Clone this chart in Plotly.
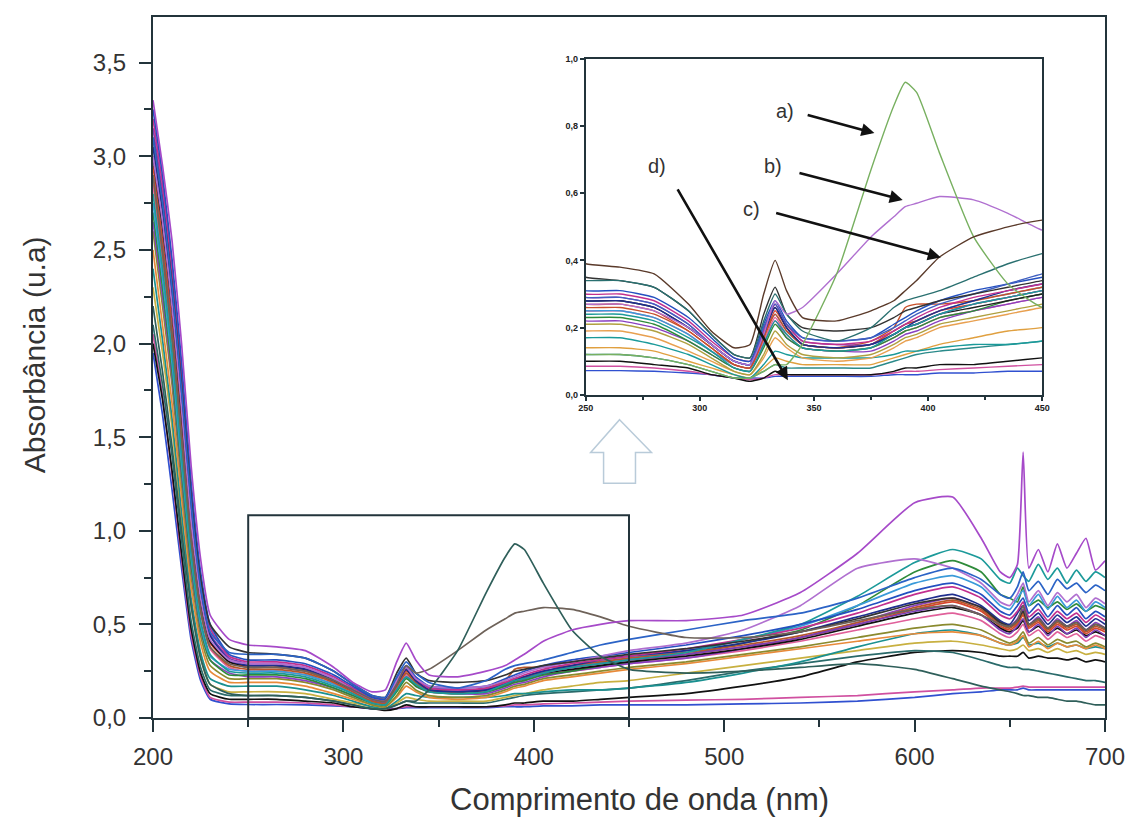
import plotly.graph_objects as go

# Shared wavelength grid (nm) for every absorbance spectrum
wavelength = [200, 205, 210, 215, 220, 225, 230, 240,
              250, 265, 280, 295, 305, 315, 322, 328, 333, 338, 345,
              360, 375, 385, 390, 395, 405, 420, 435, 450,
              480, 510, 540, 570, 600, 620, 635, 645,
              650, 654, 657, 660, 665, 670, 675, 680, 685, 690, 695, 700]

# --- spectra (absorbance, u.a) ---
spec_c = [3.30, 2.95, 2.55, 2.00, 1.35, 0.85, 0.55, 0.42,
          0.39, 0.38, 0.36, 0.27, 0.19, 0.14, 0.15, 0.30, 0.40, 0.31, 0.23,
          0.22, 0.25, 0.28, 0.31, 0.34, 0.41, 0.47, 0.50, 0.52,
          0.52, 0.55, 0.67, 0.88, 1.15, 1.18, 0.96, 0.78,
          0.75, 0.82, 1.42, 0.80, 0.90, 0.78, 0.93, 0.80, 0.88, 0.96, 0.79, 0.84]
spec_a = [2.20, 1.85, 1.45, 1.00, 0.60, 0.32, 0.18, 0.13,
          0.12, 0.12, 0.11, 0.09, 0.07, 0.05, 0.05, 0.07, 0.09, 0.09, 0.15,
          0.36, 0.67, 0.86, 0.93, 0.90, 0.72, 0.47, 0.33, 0.26,
          0.24, 0.25, 0.27, 0.29, 0.26, 0.21, 0.17, 0.15,
          0.14, 0.13, 0.12, 0.12, 0.11, 0.11, 0.10, 0.09, 0.09, 0.08, 0.07, 0.07]
spec_b = [2.90, 2.50, 2.05, 1.50, 0.95, 0.58, 0.38, 0.29,
          0.27, 0.27, 0.25, 0.20, 0.15, 0.10, 0.09, 0.18, 0.28, 0.24, 0.26,
          0.36, 0.47, 0.53, 0.56, 0.57, 0.59, 0.58, 0.54, 0.49,
          0.43, 0.43, 0.46, 0.52, 0.58, 0.60, 0.55, 0.50,
          0.49, 0.52, 0.60, 0.50, 0.53, 0.48, 0.52, 0.49, 0.51, 0.47, 0.50, 0.48]
spec_04 = [3.10, 2.75, 2.30, 1.75, 1.15, 0.70, 0.46, 0.35,
           0.34, 0.34, 0.32, 0.25, 0.18, 0.12, 0.11, 0.22, 0.30, 0.24, 0.19,
           0.16, 0.20, 0.26, 0.28, 0.29, 0.31, 0.35, 0.39, 0.42,
           0.47, 0.52, 0.56, 0.64, 0.75, 0.80, 0.74, 0.66,
           0.64, 0.70, 0.78, 0.68, 0.73, 0.66, 0.74, 0.69, 0.72, 0.67, 0.71, 0.68]
spec_05 = [3.00, 2.65, 2.20, 1.65, 1.05, 0.64, 0.42, 0.31,
           0.29, 0.29, 0.27, 0.21, 0.15, 0.10, 0.09, 0.20, 0.27, 0.21, 0.17,
           0.16, 0.17, 0.20, 0.22, 0.24, 0.27, 0.30, 0.33, 0.36,
           0.40, 0.47, 0.60, 0.80, 0.85, 0.80, 0.72, 0.62,
           0.60, 0.66, 0.72, 0.62, 0.68, 0.60, 0.67, 0.62, 0.66, 0.59, 0.64, 0.61]
spec_06 = [2.80, 2.40, 1.95, 1.40, 0.88, 0.52, 0.34, 0.25,
           0.24, 0.24, 0.22, 0.17, 0.13, 0.08, 0.07, 0.15, 0.22, 0.18, 0.14,
           0.13, 0.14, 0.18, 0.20, 0.21, 0.24, 0.27, 0.29, 0.31,
           0.35, 0.42, 0.50, 0.65, 0.83, 0.90, 0.85, 0.74,
           0.72, 0.80, 0.76, 0.73, 0.82, 0.74, 0.80, 0.72, 0.79, 0.73, 0.78, 0.75]
spec_07 = [2.70, 2.30, 1.85, 1.32, 0.82, 0.48, 0.31, 0.23,
           0.23, 0.23, 0.21, 0.16, 0.12, 0.08, 0.07, 0.14, 0.21, 0.17, 0.14,
           0.13, 0.14, 0.17, 0.19, 0.20, 0.23, 0.25, 0.28, 0.30,
           0.34, 0.40, 0.47, 0.60, 0.78, 0.84, 0.78, 0.66,
           0.64, 0.62, 0.70, 0.60, 0.63, 0.59, 0.62, 0.58, 0.61, 0.57, 0.60, 0.58]
spec_08 = [3.20, 2.85, 2.40, 1.85, 1.22, 0.75, 0.48, 0.33,
           0.30, 0.30, 0.28, 0.22, 0.16, 0.11, 0.10, 0.19, 0.27, 0.21, 0.16,
           0.15, 0.16, 0.19, 0.21, 0.23, 0.26, 0.29, 0.31, 0.33,
           0.37, 0.42, 0.48, 0.56, 0.66, 0.70, 0.64, 0.55,
           0.53, 0.57, 0.62, 0.54, 0.58, 0.52, 0.57, 0.53, 0.56, 0.51, 0.55, 0.52]
spec_09 = [2.95, 2.55, 2.10, 1.55, 0.98, 0.60, 0.40, 0.30,
           0.27, 0.27, 0.25, 0.19, 0.14, 0.09, 0.08, 0.17, 0.25, 0.20, 0.15,
           0.14, 0.15, 0.19, 0.21, 0.22, 0.25, 0.27, 0.29, 0.31,
           0.34, 0.38, 0.43, 0.50, 0.58, 0.62, 0.57, 0.49,
           0.47, 0.50, 0.55, 0.48, 0.51, 0.46, 0.50, 0.47, 0.49, 0.45, 0.48, 0.46]
spec_10 = [3.05, 2.70, 2.25, 1.70, 1.10, 0.67, 0.44, 0.31,
           0.28, 0.28, 0.26, 0.20, 0.15, 0.10, 0.09, 0.18, 0.26, 0.20, 0.15,
           0.14, 0.15, 0.18, 0.20, 0.22, 0.25, 0.28, 0.31, 0.33,
           0.36, 0.40, 0.46, 0.54, 0.62, 0.66, 0.60, 0.52,
           0.50, 0.56, 0.60, 0.52, 0.56, 0.50, 0.55, 0.51, 0.54, 0.49, 0.53, 0.50]
spec_11 = [3.15, 2.80, 2.35, 1.78, 1.15, 0.70, 0.45, 0.32,
           0.29, 0.29, 0.27, 0.21, 0.15, 0.10, 0.09, 0.19, 0.27, 0.21, 0.16,
           0.15, 0.15, 0.18, 0.20, 0.21, 0.24, 0.27, 0.29, 0.31,
           0.34, 0.38, 0.43, 0.50, 0.57, 0.60, 0.55, 0.47,
           0.45, 0.49, 0.53, 0.46, 0.50, 0.44, 0.49, 0.45, 0.48, 0.43, 0.47, 0.44]
spec_12 = [2.85, 2.45, 2.00, 1.45, 0.92, 0.56, 0.37, 0.27,
           0.25, 0.25, 0.23, 0.18, 0.13, 0.09, 0.08, 0.16, 0.23, 0.18, 0.14,
           0.13, 0.14, 0.17, 0.19, 0.20, 0.23, 0.25, 0.27, 0.29,
           0.32, 0.36, 0.41, 0.47, 0.53, 0.56, 0.52, 0.45,
           0.43, 0.46, 0.50, 0.44, 0.47, 0.42, 0.46, 0.43, 0.45, 0.41, 0.44, 0.42]
spec_13 = [2.75, 2.35, 1.90, 1.36, 0.86, 0.50, 0.33, 0.26,
           0.25, 0.25, 0.23, 0.18, 0.13, 0.09, 0.08, 0.18, 0.24, 0.19, 0.15,
           0.14, 0.15, 0.19, 0.21, 0.22, 0.25, 0.28, 0.30, 0.32,
           0.36, 0.42, 0.49, 0.60, 0.72, 0.76, 0.70, 0.60,
           0.58, 0.64, 0.68, 0.60, 0.66, 0.58, 0.65, 0.59, 0.63, 0.57, 0.62, 0.59]
spec_14 = [2.60, 2.20, 1.78, 1.25, 0.76, 0.44, 0.28, 0.21,
           0.21, 0.21, 0.19, 0.15, 0.11, 0.07, 0.06, 0.12, 0.19, 0.15, 0.12,
           0.11, 0.12, 0.15, 0.17, 0.18, 0.21, 0.23, 0.25, 0.27,
           0.30, 0.34, 0.38, 0.43, 0.48, 0.50, 0.47, 0.42,
           0.40, 0.42, 0.46, 0.40, 0.43, 0.39, 0.42, 0.40, 0.41, 0.38, 0.40, 0.38]
spec_15 = [2.50, 2.10, 1.68, 1.18, 0.70, 0.40, 0.25, 0.19,
           0.19, 0.19, 0.17, 0.13, 0.10, 0.07, 0.06, 0.11, 0.17, 0.14, 0.11,
           0.10, 0.11, 0.14, 0.16, 0.17, 0.20, 0.22, 0.24, 0.26,
           0.29, 0.33, 0.37, 0.41, 0.45, 0.46, 0.44, 0.40,
           0.39, 0.41, 0.44, 0.38, 0.41, 0.37, 0.40, 0.38, 0.39, 0.37, 0.39, 0.37]
spec_16 = [3.00, 2.62, 2.18, 1.62, 1.05, 0.63, 0.41, 0.30,
           0.28, 0.28, 0.26, 0.20, 0.15, 0.10, 0.09, 0.20, 0.26, 0.20, 0.15,
           0.14, 0.15, 0.18, 0.20, 0.21, 0.24, 0.26, 0.28, 0.30,
           0.33, 0.37, 0.42, 0.49, 0.56, 0.59, 0.55, 0.48,
           0.46, 0.48, 0.52, 0.46, 0.49, 0.45, 0.48, 0.45, 0.47, 0.44, 0.46, 0.44]
spec_17 = [2.00, 1.70, 1.32, 0.88, 0.48, 0.24, 0.13, 0.10,
           0.10, 0.10, 0.09, 0.08, 0.06, 0.05, 0.04, 0.05, 0.07, 0.06, 0.06,
           0.06, 0.06, 0.07, 0.08, 0.08, 0.09, 0.09, 0.10, 0.11,
           0.13, 0.17, 0.22, 0.30, 0.35, 0.36, 0.35, 0.33,
           0.33, 0.33, 0.35, 0.32, 0.33, 0.32, 0.32, 0.31, 0.32, 0.30, 0.31, 0.30]
spec_18 = [2.10, 1.78, 1.40, 0.95, 0.52, 0.27, 0.15, 0.12,
           0.12, 0.12, 0.11, 0.09, 0.07, 0.05, 0.05, 0.07, 0.09, 0.08, 0.08,
           0.08, 0.08, 0.10, 0.11, 0.12, 0.13, 0.14, 0.15, 0.16,
           0.20, 0.25, 0.29, 0.33, 0.36, 0.35, 0.31, 0.28,
           0.27, 0.27, 0.26, 0.26, 0.25, 0.24, 0.23, 0.22, 0.21, 0.20, 0.20, 0.19]
spec_19 = [1.95, 1.62, 1.22, 0.80, 0.42, 0.20, 0.10, 0.075,
           0.072, 0.072, 0.07, 0.065, 0.06, 0.05, 0.05, 0.05, 0.055, 0.055, 0.055,
           0.055, 0.055, 0.06, 0.06, 0.06, 0.065, 0.065, 0.07, 0.07,
           0.07, 0.075, 0.08, 0.09, 0.11, 0.13, 0.14, 0.15,
           0.15, 0.15, 0.16, 0.15, 0.15, 0.15, 0.15, 0.15, 0.15, 0.15, 0.15, 0.15]
spec_20 = [2.05, 1.72, 1.30, 0.85, 0.45, 0.22, 0.11, 0.085,
           0.085, 0.085, 0.08, 0.07, 0.06, 0.05, 0.045, 0.05, 0.06, 0.06, 0.06,
           0.06, 0.06, 0.065, 0.07, 0.07, 0.075, 0.08, 0.085, 0.09,
           0.095, 0.10, 0.11, 0.12, 0.14, 0.15, 0.16, 0.16,
           0.16, 0.165, 0.17, 0.165, 0.165, 0.165, 0.165, 0.165, 0.165, 0.165, 0.165, 0.165]
spec_21 = [2.30, 1.95, 1.55, 1.05, 0.60, 0.32, 0.18, 0.14,
           0.14, 0.14, 0.13, 0.10, 0.08, 0.06, 0.05, 0.08, 0.11, 0.10, 0.09,
           0.09, 0.09, 0.11, 0.12, 0.13, 0.15, 0.17, 0.19, 0.20,
           0.24, 0.28, 0.32, 0.36, 0.40, 0.41, 0.39, 0.37,
           0.36, 0.37, 0.39, 0.36, 0.37, 0.35, 0.37, 0.35, 0.36, 0.34, 0.35, 0.34]
spec_22 = [2.40, 2.02, 1.60, 1.10, 0.64, 0.35, 0.21, 0.17,
           0.17, 0.17, 0.15, 0.12, 0.09, 0.06, 0.05, 0.09, 0.13, 0.12, 0.11,
           0.11, 0.11, 0.12, 0.13, 0.13, 0.14, 0.15, 0.15, 0.16,
           0.19, 0.24, 0.30, 0.38, 0.45, 0.47, 0.44, 0.40,
           0.39, 0.40, 0.43, 0.39, 0.40, 0.38, 0.40, 0.38, 0.39, 0.37, 0.38, 0.37]
spec_23 = [3.10, 2.75, 2.32, 1.78, 1.18, 0.74, 0.50, 0.38,
           0.35, 0.34, 0.32, 0.25, 0.18, 0.12, 0.11, 0.24, 0.32, 0.24, 0.20,
           0.19, 0.20, 0.23, 0.25, 0.26, 0.28, 0.30, 0.32, 0.34,
           0.37, 0.41, 0.46, 0.53, 0.61, 0.64, 0.59, 0.51,
           0.49, 0.52, 0.57, 0.50, 0.53, 0.48, 0.52, 0.49, 0.51, 0.47, 0.50, 0.48]
spec_24 = [2.90, 2.48, 2.02, 1.48, 0.93, 0.57, 0.38, 0.28,
           0.26, 0.26, 0.24, 0.19, 0.14, 0.09, 0.08, 0.17, 0.24, 0.19, 0.15,
           0.14, 0.16, 0.20, 0.26, 0.27, 0.27, 0.28, 0.30, 0.32,
           0.35, 0.39, 0.44, 0.51, 0.59, 0.63, 0.58, 0.50,
           0.48, 0.51, 0.56, 0.49, 0.52, 0.47, 0.51, 0.48, 0.50, 0.46, 0.49, 0.47]
spec_25 = [3.25, 2.90, 2.45, 1.90, 1.26, 0.78, 0.50, 0.34,
           0.31, 0.31, 0.29, 0.23, 0.17, 0.11, 0.10, 0.21, 0.28, 0.22, 0.17,
           0.16, 0.17, 0.21, 0.23, 0.25, 0.28, 0.31, 0.33, 0.35,
           0.39, 0.44, 0.50, 0.58, 0.68, 0.72, 0.66, 0.57,
           0.55, 0.60, 0.64, 0.56, 0.61, 0.54, 0.60, 0.55, 0.59, 0.53, 0.57, 0.54]
spec_26 = [2.65, 2.25, 1.82, 1.30, 0.80, 0.47, 0.31, 0.24,
           0.22, 0.22, 0.20, 0.16, 0.12, 0.08, 0.07, 0.15, 0.22, 0.17, 0.14,
           0.13, 0.13, 0.16, 0.18, 0.19, 0.22, 0.25, 0.27, 0.29,
           0.32, 0.37, 0.43, 0.51, 0.60, 0.64, 0.59, 0.51,
           0.49, 0.53, 0.58, 0.50, 0.54, 0.48, 0.53, 0.49, 0.52, 0.47, 0.51, 0.48]

# (values, colour in main panel, colour in zoomed panel), drawn in this order
series = [
    (spec_19, "#3050d0", "#3050d0"),
    (spec_20, "#d050a0", "#d050a0"),
    (spec_17, "#111111", "#111111"),
    (spec_18, "#2a6a6a", "#2a8a8a"),
    (spec_21, "#c8b040", "#e0a040"),
    (spec_22, "#1a9090", "#1a9a9a"),
    (spec_15, "#e88a3a", "#e8a050"),
    (spec_14, "#8a8a2e", "#b0a040"),
    (spec_12, "#e0609a", "#e0609a"),
    (spec_26, "#8a40c0", "#8a40c0"),
    (spec_07, "#2e8b3a", "#2e8b3a"),
    (spec_13, "#3a9ad9", "#3a9ad9"),
    (spec_09, "#d9452e", "#d9452e"),
    (spec_16, "#111111", "#222222"),
    (spec_24, "#b5562a", "#c8502a"),
    (spec_11, "#7b3fb5", "#7b3fb5"),
    (spec_10, "#1f2f8f", "#1f2f8f"),
    (spec_08, "#c2308f", "#c2308f"),
    (spec_06, "#1c9a9a", "#1c9a9a"),
    (spec_25, "#2450c0", "#2450c0"),
    (spec_05, "#b070d0", "#4060c0"),
    (spec_23, "#333333", "#333333"),
    (spec_04, "#2b63c6", "#2a7070"),
    (spec_b, "#6e6259", "#b070d0"),
    (spec_a, "#2f5f5a", "#78b060"),
    (spec_c, "#a64ac9", "#5a3a2a"),
]

axis_col = "#23343b"
text_col = "#333333"
font_fam = "Liberation Sans, Arial, sans-serif"

fig = go.Figure()
for vals, c_main, c_zoom in series:
    fig.add_trace(go.Scatter(x=wavelength, y=vals, mode="lines",
                             line=dict(color=c_main, width=1.7, shape="spline", smoothing=0.5),
                             xaxis="x", yaxis="y", showlegend=False, hoverinfo="skip"))
for vals, c_main, c_zoom in series:
    fig.add_trace(go.Scatter(x=wavelength, y=vals, mode="lines",
                             line=dict(color=c_zoom, width=1.4, shape="spline", smoothing=0.5),
                             xaxis="x2", yaxis="y2", showlegend=False, hoverinfo="skip"))

# frame of the zoomed region in the main panel
fig.add_shape(type="rect", xref="x", yref="y", x0=250, x1=450, y0=0, y1=1.083,
              line=dict(color=axis_col, width=2))

# hollow arrow pointing up to the zoomed panel
fig.add_shape(type="path", xref="paper", yref="paper",
              path="M 0.4901,0.4255 L 0.5236,0.3787 L 0.5068,0.3787 L 0.5068,0.3348 "
                   "L 0.4733,0.3348 L 0.4733,0.3787 L 0.4597,0.3787 Z",
              line=dict(color="#b9cbd9", width=1.5), fillcolor="rgba(255,255,255,0)")

# labels a)-d) with arrows in the zoomed panel
labels = [("a)", 337.5, 0.846, 346.6, 0.834, 376.5, 0.779),
          ("b)", 332.1, 0.682, 343.0, 0.661, 388.9, 0.580),
          ("c)", 322.6, 0.552, 332.8, 0.542, 405.6, 0.409),
          ("d)", 281.4, 0.682, 289.9, 0.616, 338.6, 0.0435)]
for txt, tx, ty, ax0, ay0, x1, y1 in labels:
    fig.add_annotation(x=tx, y=ty, xref="x2", yref="y2", text=txt, showarrow=False,
                       font=dict(family=font_fam, size=20, color=text_col))
    fig.add_annotation(x=x1, y=y1, ax=ax0, ay=ay0, xref="x2", yref="y2",
                       axref="x2", ayref="y2", text="", showarrow=True,
                       arrowhead=2, arrowsize=1, arrowwidth=2.6, arrowcolor="#111111")

# axis titles
fig.add_annotation(x=-0.1236, y=0.518, xref="paper", yref="paper", text="Absorbância (u.a)",
                   textangle=-90, showarrow=False, xanchor="center", yanchor="middle",
                   font=dict(family=font_fam, size=30, color=text_col))
fig.add_annotation(x=0.511, y=-0.1163, xref="paper", yref="paper",
                   text="Comprimento de onda (nm)", showarrow=False,
                   xanchor="center", yanchor="middle",
                   font=dict(family=font_fam, size=31, color=text_col))

tick_font = dict(family=font_fam, size=24, color=text_col)
small_font = dict(family=font_fam, size=9, color="#222222", weight="bold")

fig.update_layout(
    width=1137, height=823,
    margin=dict(l=153, r=29, t=13, b=105),
    paper_bgcolor="white", plot_bgcolor="white",
    separators=",.",
    xaxis=dict(domain=[0, 1], anchor="y", range=[200, 700], tick0=200, dtick=100,
               ticks="outside", ticklen=12, tickwidth=2, tickcolor=axis_col,
               showline=True, linewidth=2, linecolor=axis_col, mirror=True,
               showgrid=False, zeroline=False, tickfont=tick_font, ticklabelstandoff=4,
               minor=dict(ticks="outside", ticklen=7, dtick=50, tickwidth=1.5,
                          tickcolor=axis_col, showgrid=False)),
    yaxis=dict(domain=[0, 1], anchor="x", range=[0, 3.744], tick0=0, dtick=0.5,
               tickformat=".1f", ticks="outside", ticklen=12, tickwidth=2,
               tickcolor=axis_col, showline=True, linewidth=2, linecolor=axis_col,
               mirror=True, showgrid=False, zeroline=False, tickfont=tick_font,
               ticklabelstandoff=8,
               minor=dict(ticks="outside", ticklen=7, dtick=0.25, tickwidth=1.5,
                          tickcolor=axis_col, showgrid=False)),
    xaxis2=dict(domain=[0.4545, 0.934], anchor="y2", range=[250, 450], tick0=250,
                dtick=50, ticks="outside", ticklen=4, tickwidth=1.5, tickcolor=axis_col,
                showline=True, linewidth=1.5, linecolor=axis_col, mirror=True,
                showgrid=False, zeroline=False, tickfont=small_font,
                minor=dict(ticks="outside", ticklen=3, dtick=25, tickcolor=axis_col,
                           showgrid=False)),
    yaxis2=dict(domain=[0.461, 0.9404], anchor="x2", range=[0, 1], tick0=0, dtick=0.2,
                tickformat=".1f", ticks="outside", ticklen=4, tickwidth=1.5,
                tickcolor=axis_col, showline=True, linewidth=1.5, linecolor=axis_col,
                mirror=True, showgrid=False, zeroline=False, tickfont=small_font),
)

fig.write_html("out.html")
